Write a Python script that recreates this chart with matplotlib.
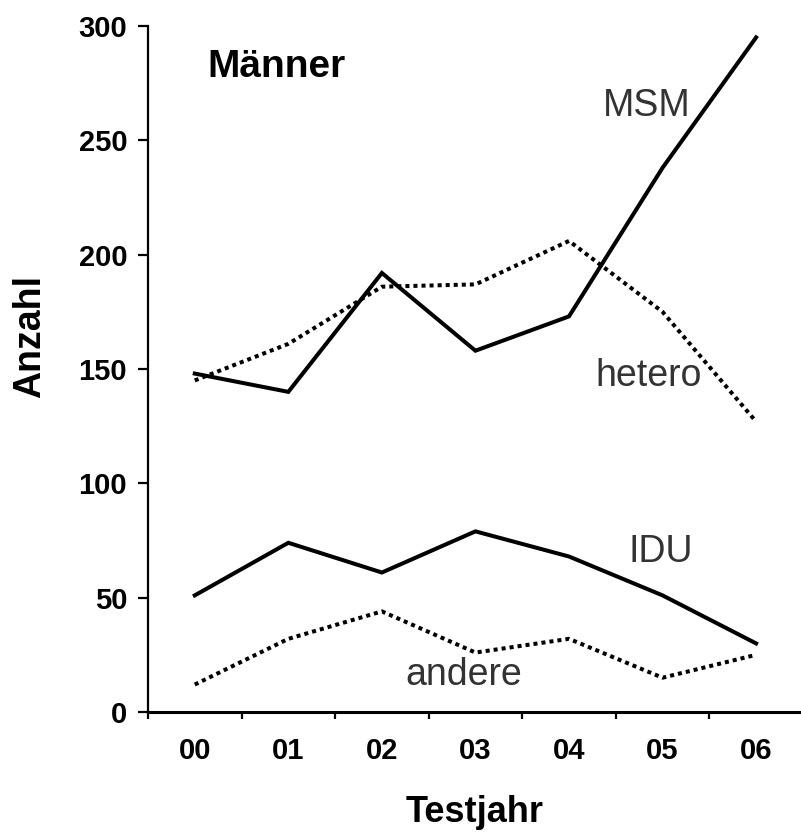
import numpy as np
import matplotlib
matplotlib.use('Agg')
import matplotlib.pyplot as plt
from matplotlib.ticker import FixedLocator

plt.rcParams['font.family'] = ['Liberation Sans', 'DejaVu Sans']

years = ['00', '01', '02', '03', '04', '05', '06']
msm    = [148, 140, 192, 158, 173, 238, 295]
hetero = [145, 161, 186, 187, 206, 175, 127]
idu    = [51, 74, 61, 79, 68, 51, 30]
andere = [12, 32, 44, 26, 32, 15, 25]

fig = plt.figure(figsize=(8.01, 8.38), dpi=100)
ax = fig.add_axes([148/801, 126/838, 653/801, 686/838])

x = np.arange(len(years))
lw = 2.9
dots = (0, (1, 1))
ax.plot(x, msm, color='black', lw=lw, solid_joinstyle='miter')
ax.plot(x, hetero, color='black', lw=lw, linestyle=dots, dash_capstyle='butt')
ax.plot(x, idu, color='black', lw=lw, solid_joinstyle='miter')
ax.plot(x, andere, color='black', lw=lw, linestyle=dots, dash_capstyle='butt')

label_kw = dict(fontsize=27, color='#333333', ha='center', va='center')
ax.text(4.83, 265, 'MSM', **label_kw)
ax.text(4.85, 147, 'hetero', **label_kw)
ax.text(4.98, 70, 'IDU', **label_kw)
ax.text(2.88, 16, 'andere', **label_kw)
ax.text(0.13, 282, 'Männer', fontsize=28, fontweight='bold', ha='left', va='center')

ax.set_xlim(-0.5, 6.48)
ax.set_ylim(0, 300)
ax.set_yticks([0, 50, 100, 150, 200, 250, 300])
ax.set_xticks(x)
ax.set_xticklabels(years)
ax.xaxis.set_minor_locator(FixedLocator(np.arange(-0.5, 6, 1.0)))

for s in ['top', 'right']:
  ax.spines[s].set_visible(False)
ax.spines['left'].set_linewidth(1.6)
ax.spines['bottom'].set_linewidth(2.2)

ax.tick_params(axis='x', which='major', length=0, pad=18, labelsize=21)
ax.tick_params(axis='x', which='minor', length=5, width=1.6, direction='out')
ax.tick_params(axis='y', length=7, width=1.6, pad=8, labelsize=21)
for lab in ax.get_xticklabels() + ax.get_yticklabels():
  lab.set_fontweight('bold')

ax.set_ylabel('Anzahl', fontsize=27, fontweight='bold', va='center')
ax.yaxis.set_label_coords((30-148)/653, (712-337)/686)
ax.set_xlabel('Testjahr', fontsize=26, fontweight='bold', va='center')
ax.xaxis.set_label_coords((475-148)/653, -(812-712)/686)

fig.savefig('out.png', dpi=100)
